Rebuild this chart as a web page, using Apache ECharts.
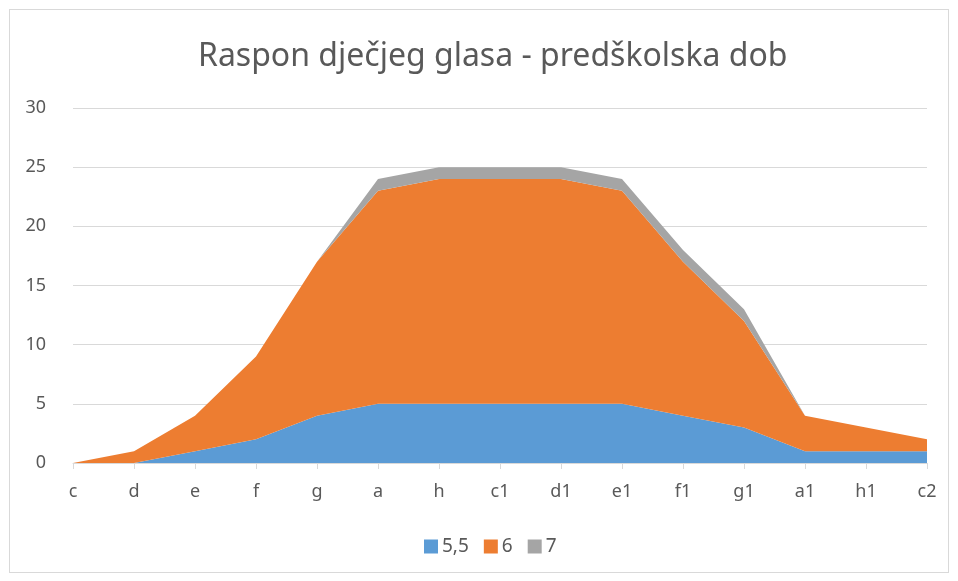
<!DOCTYPE html>
<html>
<head>
<meta charset="utf-8">
<script src="https://cdn.jsdelivr.net/npm/echarts@6/dist/echarts.min.js"></script>
<style>
  html, body { margin: 0; padding: 0; background: #fff; }
  #frame { position: absolute; left: 9px; top: 9px; width: 938px; height: 562px; border: 1px solid #d9d9d9; }
  #chart { position: absolute; left: 0; top: 0; width: 958px; height: 581px; }
</style>
</head>
<body>
<div id="frame"></div>
<div id="chart"></div>
<script>
const categories = ['c', 'd', 'e', 'f', 'g', 'a', 'h', 'c1', 'd1', 'e1', 'f1', 'g1', 'a1', 'h1', 'c2'];
const seriesNames = ['5,5', '6', '7'];
const values55 = [0, 0, 1, 2, 4, 5, 5, 5, 5, 5, 4, 3, 1, 1, 1];
const values6 = [0, 1, 3, 7, 13, 18, 19, 19, 19, 18, 13, 9, 3, 2, 1];
const values7 = [0, 0, 0, 0, 0, 1, 1, 1, 1, 1, 1, 1, 0, 0, 0];
const colors = ['#5B9BD5', '#ED7D31', '#A5A5A5'];

const font = '"Noto Sans", sans-serif';
const chart = echarts.init(document.getElementById('chart'));

const makeSeries = (name, data, color) => ({
  name: name,
  type: 'line',
  stack: 'total',
  data: data,
  symbol: 'none',
  lineStyle: { width: 0 },
  areaStyle: { color: color, opacity: 1 },
  itemStyle: { color: color },
  emphasis: { disabled: true }
});

chart.setOption({
  animation: false,
  title: {
    text: 'Raspon dječjeg glasa - predškolska dob',
    left: 193,
    top: 36,
    textStyle: { color: '#595959', fontSize: 32, fontWeight: 'normal', fontFamily: font }
  },
  legend: {
    data: seriesNames,
    bottom: 20,
    left: 419,
    itemWidth: 14,
    itemHeight: 14,
    itemGap: 15,
    icon: 'rect',
    textStyle: { color: '#595959', fontSize: 19, fontFamily: font, padding: [0, 0, 0, -1] }
  },
  grid: { left: 73, right: 31, top: 108, bottom: 118, containLabel: false },
  xAxis: {
    type: 'category',
    data: categories,
    boundaryGap: false,
    axisLine: { lineStyle: { color: '#d9d9d9' } },
    axisTick: { show: true, alignWithLabel: true, length: 6, lineStyle: { color: '#d9d9d9' } },
    axisLabel: { color: '#595959', fontSize: 18, fontFamily: font, margin: 20 },
    splitLine: { show: false }
  },
  yAxis: {
    type: 'value',
    min: 0,
    max: 30,
    interval: 5,
    axisLine: { show: false },
    axisTick: { show: false },
    axisLabel: { color: '#595959', fontSize: 18, fontFamily: font, margin: 27 },
    splitLine: { lineStyle: { color: '#d9d9d9' } }
  },
  series: [
    makeSeries(seriesNames[0], values55, colors[0]),
    makeSeries(seriesNames[1], values6, colors[1]),
    makeSeries(seriesNames[2], values7, colors[2])
  ]
});
</script>
</body>
</html>
